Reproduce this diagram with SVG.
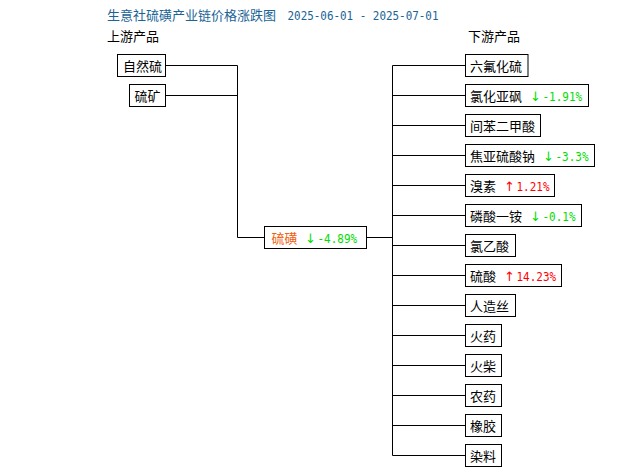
<svg xmlns="http://www.w3.org/2000/svg" width="630" height="475" viewBox="0 0 630 475">
<style>
.cn{font-family:"Noto Sans CJK SC","Noto Sans",sans-serif;font-size:13px;fill:#000}
.mono{font-family:"DejaVu Sans Mono","Liberation Mono",monospace;font-size:12px}
.ar{font-family:"DejaVu Sans","Noto Sans CJK SC",sans-serif;font-size:13px;text-anchor:middle}
.box{fill:#fff;stroke:#000;stroke-width:1}
.ln{fill:none;stroke:#000;stroke-width:1}
.up{fill:#ff0000}
.dn{fill:#00dd00}
.tt{fill:#1a6496}
</style>
<rect width="630" height="475" fill="#fff"/>
<g id="title">
<text class="cn tt" x="107" y="20">生意社硫磺产业链价格涨跌图</text>
<text class="mono tt" x="287.5" y="20" textLength="151" lengthAdjust="spacingAndGlyphs">2025-06-01 - 2025-07-01</text>
</g>
<g id="headers">
<text class="cn" x="107" y="41">上游产品</text>
<text class="cn" x="468" y="41">下游产品</text>
</g>
<g id="connectors">
<path class="ln" d="M165.5 65.5H237.5M165.5 95.5H237.5M237.5 65.5V237.5H264.5M366.5 237.5H392.5M392.5 65.5V455.5"/>
<path class="ln" d="M392.5 65.5H465.5M392.5 95.5H465.5M392.5 125.5H465.5M392.5 155.5H465.5M392.5 185.5H465.5M392.5 215.5H465.5M392.5 245.5H465.5M392.5 275.5H465.5M392.5 305.5H465.5M392.5 335.5H465.5M392.5 365.5H465.5M392.5 395.5H465.5M392.5 425.5H465.5M392.5 455.5H465.5"/>
</g>
<g id="up-ziranliu"><rect class="box" x="117.5" y="54.5" width="48" height="22"/><text class="cn" x="123" y="70.5">自然硫</text></g>
<g id="up-liukuang"><rect class="box" x="129.5" y="84.5" width="36" height="22"/><text class="cn" x="134.5" y="100.5">硫矿</text></g>
<g id="center"><rect class="box" x="264.5" y="226.5" width="102" height="22"/><text class="cn" x="271.5" y="242.5" style="fill:#f06010">硫磺</text><text class="ar dn" x="310.5" y="242.5">↓</text><text class="mono dn" x="317.5" y="242.5" textLength="39.6" lengthAdjust="spacingAndGlyphs">-4.89%</text></g>
<g id="d0"><rect class="box" x="465.5" y="54.5" width="62.5" height="22"/><text class="cn" x="470" y="70.5">六氟化硫</text></g>
<g id="d1"><rect class="box" x="465.5" y="84.5" width="123" height="22"/><text class="cn" x="470" y="100.5">氯化亚砜</text><text class="ar dn" x="535.5" y="100.5">↓</text><text class="mono dn" x="542.5" y="100.5" textLength="39.6" lengthAdjust="spacingAndGlyphs">-1.91%</text></g>
<g id="d2"><rect class="box" x="465.5" y="114.5" width="75" height="22"/><text class="cn" x="470" y="130.5">间苯二甲酸</text></g>
<g id="d3"><rect class="box" x="465.5" y="144.5" width="129" height="22"/><text class="cn" x="470" y="160.5">焦亚硫酸钠</text><text class="ar dn" x="548.5" y="160.5">↓</text><text class="mono dn" x="555.5" y="160.5" textLength="33" lengthAdjust="spacingAndGlyphs">-3.3%</text></g>
<g id="d4"><rect class="box" x="465.5" y="174.5" width="89" height="22"/><text class="cn" x="470" y="190.5">溴素</text><text class="ar up" x="509.5" y="190.5">↑</text><text class="mono up" x="516.5" y="190.5" textLength="33" lengthAdjust="spacingAndGlyphs">1.21%</text></g>
<g id="d5"><rect class="box" x="465.5" y="204.5" width="116" height="22"/><text class="cn" x="470" y="220.5">磷酸一铵</text><text class="ar dn" x="535.5" y="220.5">↓</text><text class="mono dn" x="542.5" y="220.5" textLength="33" lengthAdjust="spacingAndGlyphs">-0.1%</text></g>
<g id="d6"><rect class="box" x="465.5" y="234.5" width="50" height="22"/><text class="cn" x="470" y="250.5">氯乙酸</text></g>
<g id="d7"><rect class="box" x="465.5" y="264.5" width="96" height="22"/><text class="cn" x="470" y="280.5">硫酸</text><text class="ar up" x="509.5" y="280.5">↑</text><text class="mono up" x="516.5" y="280.5" textLength="39.6" lengthAdjust="spacingAndGlyphs">14.23%</text></g>
<g id="d8"><rect class="box" x="465.5" y="294.5" width="50" height="22"/><text class="cn" x="470" y="310.5">人造丝</text></g>
<g id="d9"><rect class="box" x="465.5" y="324.5" width="36" height="22"/><text class="cn" x="470" y="340.5">火药</text></g>
<g id="d10"><rect class="box" x="465.5" y="354.5" width="36" height="22"/><text class="cn" x="470" y="370.5">火柴</text></g>
<g id="d11"><rect class="box" x="465.5" y="384.5" width="36" height="22"/><text class="cn" x="470" y="400.5">农药</text></g>
<g id="d12"><rect class="box" x="465.5" y="414.5" width="36" height="22"/><text class="cn" x="470" y="430.5">橡胶</text></g>
<g id="d13"><rect class="box" x="465.5" y="444.5" width="36" height="22"/><text class="cn" x="470" y="460.5">染料</text></g>
</svg>
